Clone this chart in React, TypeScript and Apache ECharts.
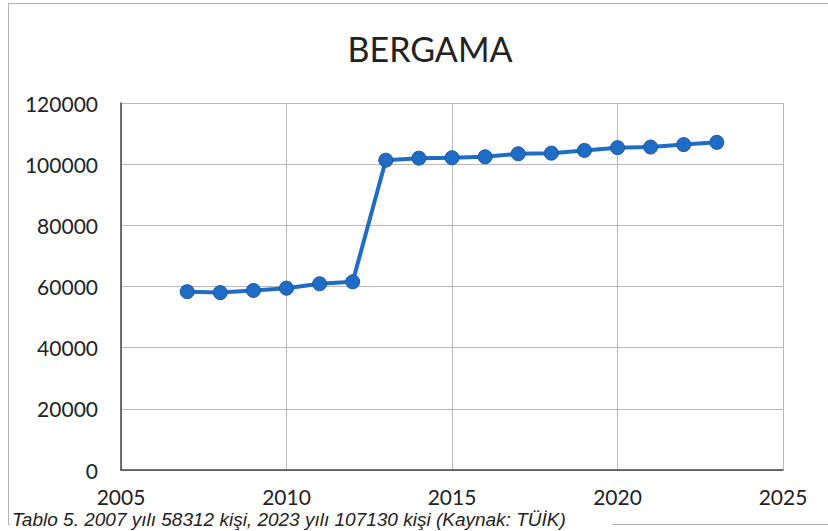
import React, { useEffect, useRef } from "react";
import * as echarts from "echarts";

const titleText = "BERGAMA";
const captionText = "Tablo 5. 2007 yılı 58312 kişi, 2023 yılı 107130 kişi (Kaynak: TÜİK)";
const years = [2007, 2008, 2009, 2010, 2011, 2012, 2013, 2014, 2015, 2016, 2017, 2018, 2019, 2020, 2021, 2022, 2023];
const population = [58312, 58000, 58700, 59450, 60880, 61530, 101300, 101970, 102100, 102400, 103400, 103600, 104500, 105400, 105600, 106400, 107130];
const xMin = 2005;
const xMax = 2025;
const xStep = 5;
const yMin = 0;
const yMax = 120000;
const yStep = 20000;

export default function App() {
  const ref = useRef<HTMLDivElement>(null);
  useEffect(() => {
    if (!ref.current) return;
    const chart = echarts.init(ref.current, null, { renderer: "svg" });
    const font = "Lato, 'Open Sans', sans-serif";
    chart.setOption({
      animation: false,
      backgroundColor: "#ffffff",
      grid: { left: 121, right: 45, top: 103, bottom: 61 },
      xAxis: {
        type: "value",
        min: xMin,
        max: xMax,
        interval: xStep,
        axisLine: { show: true, lineStyle: { color: "#444", width: 1.5 } },
        axisTick: { show: false },
        splitLine: { show: true, lineStyle: { color: "#b8b8b8", width: 1 } },
        axisLabel: {
          margin: 16,
          fontFamily: font,
          fontSize: 21,
          color: "#222",
          formatter: (v: number) => String(v),
        },
      },
      yAxis: {
        type: "value",
        min: yMin,
        max: yMax,
        interval: yStep,
        axisLine: { show: true, lineStyle: { color: "#444", width: 1.5 } },
        axisTick: { show: false },
        splitLine: { show: true, lineStyle: { color: "#b8b8b8", width: 1 } },
        axisLabel: {
          margin: 23,
          fontFamily: font,
          fontSize: 21,
          color: "#222",
          formatter: (v: number) => String(v),
        },
      },
      series: [
        {
          type: "line",
          data: years.map((y, i) => [y, population[i]]),
          symbol: "circle",
          symbolSize: 14,
          lineStyle: { color: "#1f6cc4", width: 4 },
          itemStyle: { color: "#1f6cc4", borderColor: "#1757a3", borderWidth: 1 },
          z: 5,
        },
      ],
      graphic: [
        {
          type: "rect",
          shape: { x: 8.5, y: 3.5, width: 830, height: 521 },
          style: { fill: "none", stroke: "#b0b0b0", lineWidth: 1 },
          silent: true,
          z: -1,
        },
        {
          type: "text",
          x: 430,
          y: 48,
          style: {
            text: titleText,
            fontFamily: font,
            fontSize: 34,
            fill: "#222",
            textAlign: "center",
            textVerticalAlign: "middle",
          },
        },
        {
          type: "rect",
          shape: { x: 10, y: 511, width: 602, height: 20 },
          style: { fill: "#ffffff" },
          z: 1,
        },
        {
          type: "text",
          x: 12,
          y: 510,
          style: {
            text: captionText,
            fontFamily: "'Liberation Sans', Arial, sans-serif",
            fontStyle: "italic",
            fontSize: 19,
            fill: "#222",
            textAlign: "left",
            textVerticalAlign: "top",
          },
          z: 2,
        },
      ],
    });
    return () => chart.dispose();
  }, []);
  return (
    <div
      ref={ref}
      style={{ position: "absolute", left: 0, top: 0, width: 828, height: 531 }}
    />
  );
}
